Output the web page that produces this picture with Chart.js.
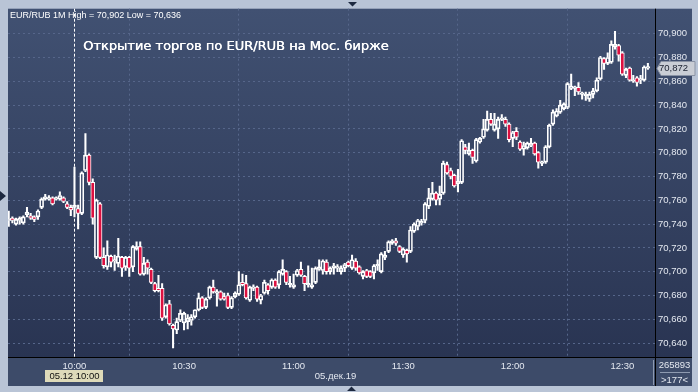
<!DOCTYPE html>
<html>
<head>
<meta charset="utf-8">
<script src="https://cdn.jsdelivr.net/npm/chart.js@4.4.1/dist/chart.umd.min.js"></script>
<style>
  html, body { margin: 0; padding: 0; background: #b9c4d6; }
  #chart { display: block; }
</style>
</head>
<body>
<canvas id="chart" width="698" height="392"></canvas>
<script>
// EUR/RUB 1M, 05.12.19, minutes relative to 10:00
var minutes = [-18,-17,-16,-15,-14,-13,-12,-11,-10,-9,-8,-7,-6,-5,-4,-3,-2,-1,
  0,1,2,3,4,5,6,7,8,9,10,11,12,13,14,15,16,17,18,19,20,21,22,23,24,25,26,27,28,29,
  30,31,32,33,34,35,36,37,38,39,40,41,42,43,44,45,46,47,48,49,50,51,52,53,54,55,56,57,58,59,
  60,61,62,63,64,65,66,67,68,69,70,71,72,73,74,75,76,77,78,79,80,81,82,83,84,85,86,87,88,89,
  90,91,92,93,94,95,96,97,98,99,100,101,102,103,104,105,106,107,108,109,110,111,112,113,114,115,116,117,118,119,
  120,121,122,123,124,125,126,127,128,129,130,131,132,133,134,135,136,137,138,139,140,141,142,143,144,145,146,147,148,149,
  150,151,152,153,154,155,156,157];

var opens = [70.743,70.745,70.740,70.743,70.741,70.748,70.747,70.746,70.746,70.754,70.761,70.761,70.762,70.761,70.761,70.762,70.757,70.754,
  70.754,70.753,70.749,70.785,70.798,70.775,70.712,70.757,70.712,70.704,
  70.713,70.709,70.707,70.712,70.704,70.712,70.704,70.719,70.721,70.698,
  70.708,70.702,70.690,70.686,70.686,70.662,70.673,70.655,70.651,70.659,
  70.657,70.658,70.659,70.662,70.668,70.678,70.670,70.678,70.687,70.682,
  70.683,70.679,70.680,70.670,70.679,70.681,70.691,70.690,70.676,70.686,
  70.687,70.676,70.682,70.689,70.687,70.693,70.689,70.698,70.700,70.689,
  70.687,70.697,70.702,70.696,70.689,70.687,70.691,70.702,70.701,70.708,
  70.700,70.703,70.703,70.700,70.703,70.708,70.703,70.709,70.704,70.696,
  70.701,70.700,70.699,70.705,70.700,70.712,70.717,70.724,70.726,70.721,
  70.714,70.718,70.717,70.734,70.738,70.741,70.743,70.755,70.761,70.766,
  70.761,70.766,70.790,70.785,70.781,70.774,70.775,70.805,70.799,70.802,
  70.793,70.809,70.813,70.819,70.828,70.819,70.820,70.828,70.828,70.824,
  70.812,70.818,70.809,70.803,70.804,70.806,70.808,70.800,70.791,70.792,
  70.805,70.824,70.831,70.834,70.837,70.838,70.854,70.854,70.855,70.849,
  70.848,70.845,70.849,70.852,70.862,70.879,70.875,70.876,70.889,70.890,
  70.884,70.865,70.871,70.860,70.863,70.861,70.861,70.871];

var highs = [70.751,70.746,70.745,70.746,70.747,70.754,70.749,70.747,70.752,70.762,70.765,70.764,70.763,70.763,70.767,70.763,70.759,70.756,
  70.788,70.756,70.784,70.816,70.799,70.778,70.761,70.758,70.720,70.726,
  70.714,70.714,70.728,70.713,70.713,70.713,70.722,70.725,70.725,70.712,
  70.710,70.703,70.691,70.697,70.690,70.673,70.676,70.656,70.661,70.668,
  70.666,70.664,70.664,70.668,70.682,70.679,70.678,70.688,70.693,70.685,
  70.684,70.682,70.682,70.679,70.683,70.700,70.698,70.697,70.688,70.689,
  70.688,70.681,70.693,70.690,70.694,70.694,70.701,70.710,70.701,70.696,
  70.698,70.702,70.708,70.697,70.705,70.703,70.704,70.710,70.710,70.710,
  70.704,70.707,70.706,70.705,70.707,70.709,70.714,70.711,70.705,70.701,
  70.702,70.701,70.706,70.710,70.716,70.717,70.726,70.727,70.728,70.722,
  70.720,70.719,70.738,70.741,70.744,70.744,70.758,70.770,70.775,70.767,
  70.772,70.793,70.792,70.787,70.782,70.786,70.811,70.807,70.808,70.803,
  70.812,70.813,70.828,70.835,70.833,70.833,70.830,70.832,70.830,70.825,
  70.818,70.821,70.810,70.809,70.809,70.812,70.809,70.801,70.793,70.806,
  70.824,70.836,70.837,70.844,70.842,70.859,70.866,70.856,70.859,70.851,
  70.851,70.851,70.854,70.863,70.881,70.880,70.884,70.894,70.902,70.891,
  70.885,70.871,70.872,70.865,70.864,70.865,70.873,70.875];

var lows = [70.738,70.741,70.739,70.740,70.740,70.746,70.744,70.742,70.744,70.753,70.760,70.760,70.756,70.760,70.760,70.758,70.753,70.747,
  70.746,70.736,70.748,70.784,70.773,70.740,70.711,70.711,70.703,70.702,
  70.704,70.701,70.704,70.696,70.701,70.696,70.700,70.718,70.697,70.697,
  70.698,70.690,70.683,70.683,70.659,70.661,70.655,70.636,70.648,70.658,
  70.651,70.652,70.655,70.661,70.667,70.669,70.669,70.677,70.682,70.671,
  70.676,70.676,70.669,70.669,70.678,70.680,70.688,70.677,70.675,70.684,
  70.675,70.673,70.681,70.681,70.686,70.686,70.686,70.697,70.689,70.687,
  70.686,70.696,70.696,70.684,70.687,70.686,70.690,70.701,70.698,70.698,
  70.698,70.698,70.700,70.698,70.700,70.704,70.702,70.701,70.698,70.694,
  70.695,70.695,70.694,70.701,70.699,70.710,70.716,70.723,70.722,70.716,
  70.712,70.708,70.716,70.733,70.735,70.739,70.741,70.753,70.760,70.756,
  70.756,70.765,70.782,70.778,70.771,70.767,70.774,70.799,70.798,70.791,
  70.792,70.808,70.812,70.818,70.823,70.818,70.812,70.827,70.822,70.809,
  70.805,70.811,70.802,70.798,70.803,70.805,70.798,70.787,70.789,70.791,
  70.804,70.823,70.830,70.833,70.836,70.837,70.853,70.848,70.849,70.845,
  70.844,70.843,70.846,70.851,70.861,70.870,70.874,70.875,70.887,70.877,
  70.865,70.863,70.860,70.859,70.856,70.858,70.860,70.870];

var closes = [70.744,70.743,70.744,70.745,70.746,70.750,70.745,70.744,70.751,70.761,70.763,70.762,70.757,70.762,70.764,70.759,70.754,70.752,
  70.756,70.749,70.783,70.798,70.775,70.745,70.760,70.712,70.705,70.714,
  70.708,70.710,70.713,70.703,70.712,70.703,70.721,70.721,70.698,70.707,
  70.703,70.691,70.684,70.684,70.661,70.672,70.656,70.652,70.658,70.665,
  70.665,70.661,70.662,70.668,70.678,70.670,70.677,70.687,70.683,70.683,
  70.677,70.677,70.670,70.678,70.682,70.689,70.689,70.678,70.687,70.687,
  70.677,70.680,70.691,70.684,70.693,70.687,70.700,70.702,70.691,70.690,
  70.689,70.701,70.697,70.690,70.690,70.689,70.703,70.704,70.709,70.700,
  70.703,70.705,70.704,70.703,70.706,70.705,70.710,70.703,70.699,70.700,
  70.696,70.696,70.705,70.706,70.715,70.714,70.725,70.726,70.724,70.717,
  70.719,70.715,70.735,70.740,70.743,70.742,70.757,70.762,70.766,70.760,
  70.765,70.791,70.783,70.780,70.772,70.776,70.810,70.802,70.802,70.796,
  70.811,70.812,70.820,70.828,70.824,70.824,70.828,70.829,70.824,70.811,
  70.817,70.813,70.803,70.806,70.808,70.808,70.799,70.792,70.792,70.805,
  70.823,70.834,70.835,70.840,70.841,70.858,70.856,70.855,70.851,70.850,
  70.849,70.849,70.852,70.861,70.880,70.875,70.880,70.891,70.891,70.882,
  70.866,70.870,70.861,70.861,70.859,70.862,70.872,70.872];

var xTickValues = [0, 30, 60, 90, 120, 150];
var xTickLabels = ['10:00', '10:30', '11:00', '11:30', '12:00', '12:30'];
var yTickValues = [70.64, 70.66, 70.68, 70.70, 70.72, 70.74, 70.76, 70.78, 70.80, 70.82, 70.84, 70.86, 70.88, 70.90];

var lastPrice = 70.872;
var cursorMinute = 0;
var titleText = 'EUR/RUB 1M High = 70,902 Low = 70,636';
var noteText = 'Открытие торгов по EUR/RUB на Мос. бирже';
var cursorText = '05.12 10:00';
var dateText = '05.дек.19';
var volumeText = '265893';
var countText = '>177<';

function fmt(v) { return v.toFixed(3).replace('.', ','); }

// candles = floating bars: upper wick, lower wick, body
var upperWick = minutes.map(function (m, i) { return { x: m, y: [Math.max(opens[i], closes[i]), highs[i]] }; });
var lowerWick = minutes.map(function (m, i) { return { x: m, y: [lows[i], Math.min(opens[i], closes[i])] }; });
var bodies = minutes.map(function (m, i) { return { x: m, y: [opens[i], closes[i]] }; });
var bodyColors = minutes.map(function (m, i) { return closes[i] < opens[i] ? '#dc1040' : 'rgba(0,0,0,0)'; });

var labelFont = { family: 'Liberation Sans', size: 9.5 };

var framePlugin = {
  id: 'frame',
  beforeDraw: function (chart) {
    var c = chart.ctx, a = chart.chartArea;
    var right = chart.scales.y.right, bottom = chart.scales.x.bottom;
    c.save();
    c.fillStyle = '#b9c4d6';
    c.fillRect(0, 0, chart.width, chart.height);
    var g = c.createLinearGradient(0, a.top, 0, a.bottom);
    g.addColorStop(0, '#415172');
    g.addColorStop(1, '#293452');
    c.fillStyle = g;
    c.fillRect(a.left, a.top, right - a.left, a.bottom - a.top);
    c.fillStyle = '#3d4b69';
    c.fillRect(a.left, a.bottom, right - a.left, bottom - a.bottom);
    c.restore();
  },
  beforeDatasetsDraw: function (chart) {
    var c = chart.ctx, a = chart.chartArea;
    var x = Math.round(chart.scales.x.getPixelForValue(cursorMinute)) + 0.5;
    c.save();
    c.strokeStyle = '#ffffff';
    c.lineWidth = 1;
    c.setLineDash([3, 2]);
    c.beginPath();
    c.moveTo(x, a.top);
    c.lineTo(x, a.bottom);
    c.stroke();
    c.restore();
  },
  afterDraw: function (chart) {
    var c = chart.ctx, a = chart.chartArea;
    var right = chart.scales.y.right, bottom = chart.scales.x.bottom;
    c.save();
    // separators
    c.strokeStyle = '#000000';
    c.lineWidth = 1;
    c.beginPath();
    c.moveTo(Math.round(a.right) + 0.5, a.top);
    c.lineTo(Math.round(a.right) + 0.5, bottom);
    c.moveTo(a.left, Math.round(a.bottom) + 0.5);
    c.lineTo(right, Math.round(a.bottom) + 0.5);
    c.stroke();
    c.strokeStyle = '#8e9ab0';
    c.beginPath();
    c.moveTo(Math.round(a.right) - 1.5, a.bottom + 3);
    c.lineTo(Math.round(a.right) - 1.5, bottom - 1);
    c.moveTo(a.right + 5, a.bottom + 15.5);
    c.lineTo(right - 2, a.bottom + 15.5);
    c.stroke();

    // header + annotation
    c.fillStyle = '#ffffff';
    c.textBaseline = 'middle';
    c.textAlign = 'left';
    c.font = '9px "Liberation Sans"';
    c.fillText(titleText, a.left + 2, a.top + 7);
    c.font = '13px "DejaVu Sans"';
    c.fillText(noteText, a.left + 75, a.top + 38);
    c.fillText(noteText, a.left + 75.4, a.top + 38);

    // bottom axis texts
    var cx = chart.scales.x.getPixelForValue(cursorMinute);
    c.font = '9.5px "Liberation Sans"';
    c.textAlign = 'center';
    var w = c.measureText(cursorText).width + 8;
    c.fillStyle = '#dedab9';
    c.fillRect(Math.round(cx - w / 2), a.bottom + 13, Math.round(w), 12);
    c.fillStyle = '#111111';
    c.fillText(cursorText, cx, a.bottom + 19.5);
    c.fillStyle = '#e4e8f0';
    c.fillText(dateText, (a.left + a.right) / 2 + 4, a.bottom + 19.5);
    c.fillText(volumeText, (a.right + right) / 2 + 1, a.bottom + 8);
    c.fillText(countText, (a.right + right) / 2 + 1, a.bottom + 23);

    // last price marker
    var py = chart.scales.y.getPixelForValue(lastPrice) + 1.5;
    c.fillStyle = '#c9cdd5';
    c.strokeStyle = '#8a93a5';
    c.beginPath();
    c.moveTo(a.right + 2, py);
    c.lineTo(a.right + 6, py - 7);
    c.lineTo(right + 3, py - 7);
    c.lineTo(right + 3, py + 7);
    c.lineTo(a.right + 6, py + 7);
    c.closePath();
    c.fill();
    c.stroke();
    c.fillStyle = '#1a2030';
    c.textAlign = 'left';
    c.fillText(fmt(lastPrice), a.right + 4, py);

    // little navigator triangles
    c.fillStyle = '#1d2940';
    c.beginPath();
    c.moveTo(348, 2); c.lineTo(357, 2); c.lineTo(352.5, 6.5); c.closePath();
    c.moveTo(347, 391); c.lineTo(356, 391); c.lineTo(351.5, 386.5); c.closePath();
    c.moveTo(0, 191); c.lineTo(0, 201); c.lineTo(6, 196); c.closePath();
    c.fill();
    c.restore();
  }
};

var chart = new Chart(document.getElementById('chart').getContext('2d'), {
  type: 'bar',
  data: {
    datasets: [
      { data: upperWick, backgroundColor: '#ffffff', barThickness: 1.4, grouped: false, order: 2 },
      { data: lowerWick, backgroundColor: '#ffffff', barThickness: 1.4, grouped: false, order: 2 },
      {
        data: bodies,
        backgroundColor: bodyColors,
        borderColor: '#ffffff',
        borderWidth: 1,
        borderSkipped: false,
        barThickness: 4,
        minBarLength: 1.5,
        grouped: false,
        order: 1
      }
    ]
  },
  options: {
    responsive: false,
    animation: false,
    devicePixelRatio: 1,
    events: [],
    layout: { padding: { left: 8, top: 8, right: 6, bottom: 6 } },
    plugins: { legend: { display: false }, tooltip: { enabled: false } },
    scales: {
      x: {
        type: 'linear',
        min: -18.2,
        max: 158.95,
        offset: false,
        afterBuildTicks: function (s) { s.ticks = xTickValues.map(function (v) { return { value: v }; }); },
        afterFit: function (s) { s.height = 29; },
        grid: {
          color: function (ctx) { return ctx.tick && ctx.tick.value === cursorMinute ? 'rgba(0,0,0,0)' : '#56668a'; },
          drawTicks: false
        },
        border: { display: false, dash: [2, 3] },
        ticks: {
          color: '#e4e8f0',
          padding: 4,
          maxRotation: 0,
          autoSkip: false,
          font: labelFont,
          callback: function (v) { return xTickLabels[xTickValues.indexOf(v)]; }
        }
      },
      y: {
        position: 'right',
        min: 70.6283,
        max: 70.921,
        afterBuildTicks: function (s) { s.ticks = yTickValues.map(function (v) { return { value: v }; }); },
        afterFit: function (s) { s.width = 37; },
        grid: { color: '#56668a', drawTicks: false },
        border: { display: false, dash: [2, 3] },
        ticks: {
          color: '#e4e8f0',
          padding: 3,
          autoSkip: false,
          font: labelFont,
          callback: function (v) { return fmt(v); }
        }
      }
    }
  },
  plugins: [framePlugin]
});
</script>
</body>
</html>
